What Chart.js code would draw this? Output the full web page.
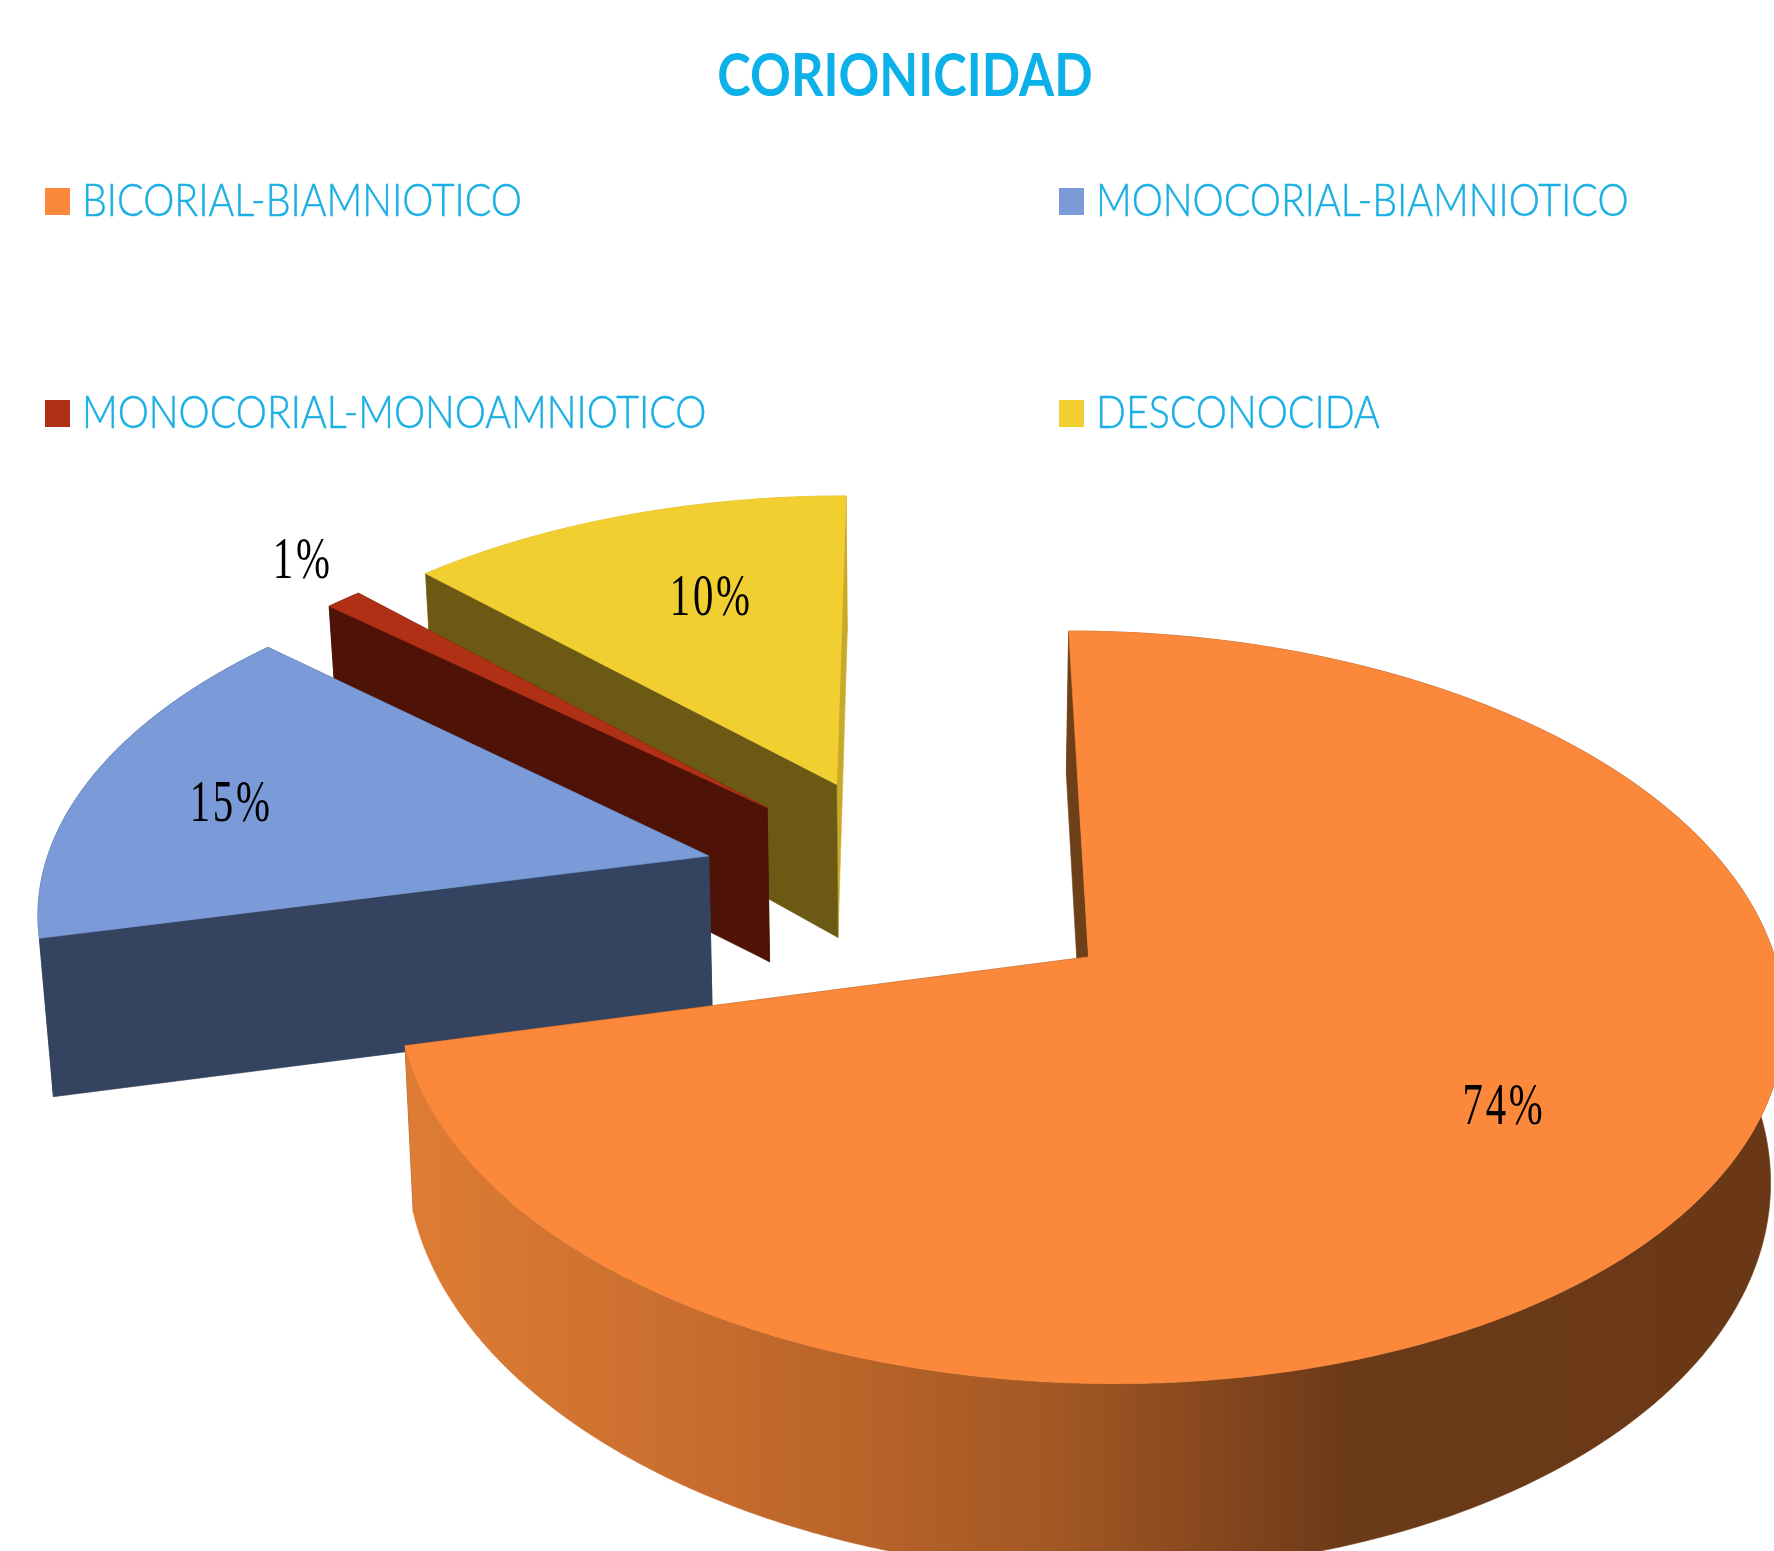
<!DOCTYPE html>
<html>
<head>
<meta charset="utf-8">
<style>html,body{margin:0;padding:0;background:#fff;overflow:hidden}#box{position:relative;width:1774px;height:1551px}</style>
<script src="https://cdn.jsdelivr.net/npm/chart.js@4"></script>
</head>
<body>
<div id="box"><canvas id="c"></canvas></div>
<script>
const chartTitle = 'CORIONICIDAD';
const categories = ['BICORIAL-BIAMNIOTICO','MONOCORIAL-BIAMNIOTICO','MONOCORIAL-MONOAMNIOTICO','DESCONOCIDA'];
const values = [74,15,1,10];
const topColors = ['#FC883B','#7A9AD8','#B03016','#F2CF30'];
const startWallColors = ['#6E4018','#334360','#4E1206','#6B5914'];
const endWallColors = ['#6E4018','#334360','#4E1206','#C9A92A'];
const explode = [212,230,230,229];
const explodeTilt = [0,2.0,1.5,-0.9];
const labelRadii = [0.68,0.76,1.16,0.66];
const labelTilt = [-4,-2,2.2,3];
const rimStops = [[400,'#DE7D34'],[650,'#CC7030'],[850,'#B96429'],[1050,'#A35824'],[1180,'#8C4A1F'],[1350,'#6B3A18'],[1774,'#6A3817']];
// Excel-style 3D view: angle distortion (deg in, deg shift) and camera
const angleKnots = [[0,0],[270,-10],[325,-9],[360,0]];
const view = {k:0.134, v0:-0.189, xc:922, vx:921, vy:-1800, y0:956, depth:163.7, lean:0.016, edgeThin:0.00003};
const radiusPx = 686;
const legendSlots = [[45,188],[1059,188],[45,400],[1059,400]];

function warp(deg){
  for(let i=1;i<angleKnots.length;i++){
    const a=angleKnots[i-1], b=angleKnots[i];
    if(deg<=b[0]) return deg + a[1] + (b[1]-a[1])*(deg-a[0])/(b[0]-a[0]);
  }
  return deg;
}
function project(px,py,z,R){
  const v=view.v0+py/R, s=1/(1-view.k*v);
  let X=view.vx+(view.xc+px-view.vx)*s, Y=view.vy+(view.y0-view.vy)*s;
  if(z){
    const d=X-view.vx;
    Y+=view.depth*s*z*(1-view.edgeThin*Math.abs(d));
    X-=view.lean*d*z;
  }
  return [X,Y];
}
function sliceGeom(arc,i){
  const toDeg=r=>(r+Math.PI/2)*180/Math.PI;
  const a=warp(toDeg(arc.startAngle)), b=warp(toDeg(arc.endAngle)), m=(a+b)/2;
  const R=arc.outerRadius, off=arc.options.offset, rad=(m+explodeTilt[i])*Math.PI/180;
  const ax=Math.sin(rad)*off, ay=-Math.cos(rad)*off;
  const pt=(deg,r,z)=>{const t=deg*Math.PI/180;return project(ax+Math.sin(t)*r,ay-Math.cos(t)*r,z,R);};
  return {a,b,m,R,pt};
}
function poly(ctx,pts,fill){
  ctx.beginPath();
  pts.forEach((p,i)=>i?ctx.lineTo(p[0],p[1]):ctx.moveTo(p[0],p[1]));
  ctx.closePath();
  ctx.fillStyle=fill; ctx.strokeStyle=fill; ctx.lineWidth=0.6;
  ctx.fill(); ctx.stroke();
}
function text(ctx,str,x,y,font,color,sx,align,spacing,stroke){
  ctx.save();
  ctx.font=font; ctx.fillStyle=color; ctx.textBaseline='middle'; ctx.textAlign=align;
  if(spacing) ctx.letterSpacing=spacing;
  ctx.translate(x,y); ctx.scale(sx,1); ctx.fillText(str,0,0);
  if(stroke){ctx.strokeStyle=color;ctx.lineWidth=stroke;ctx.strokeText(str,0,0);}
  ctx.restore();
}
const pie3d={
  id:'pie3d',
  beforeDatasetDraw(chart){
    const ctx=chart.ctx, arcs=chart.getDatasetMeta(0).data;
    const grad=ctx.createLinearGradient(400,0,1774,0);
    rimStops.forEach(s=>grad.addColorStop((s[0]-400)/1374,s[1]));
    [3,2,1,0].forEach(i=>{
      const g=sliceGeom(arcs[i],i), rim=[], rimLow=[];
      const n=Math.ceil((g.b-g.a)*2);
      for(let j=0;j<=n;j++){const d=g.a+(g.b-g.a)*j/n; rim.push(g.pt(d,g.R,0)); rimLow.push(g.pt(d,g.R,1));}
      const apex=g.pt(0,0,0), apexLow=g.pt(0,0,1);
      poly(ctx,[apex,rim[n],rimLow[n],apexLow],endWallColors[i]);
      poly(ctx,rim.concat(rimLow.slice().reverse()),i===0?grad:endWallColors[i]);
      poly(ctx,[apex,rim[0],rimLow[0],apexLow],startWallColors[i]);
      poly(ctx,[apex].concat(rim),topColors[i]);
    });
    return false;
  },
  afterDraw(chart){
    const ctx=chart.ctx, arcs=chart.getDatasetMeta(0).data;
    text(ctx,chartTitle,905,77,'bold 60px Lato','#0DB1E9',0.843,'center');
    categories.forEach((c,i)=>{
      const s=legendSlots[i];
      ctx.fillStyle=topColors[i]; ctx.fillRect(s[0],s[1],25,27);
      text(ctx,c,s[0]+37,s[1]+13,'300 46px Lato','#1AAFE4',0.855,'left',null,0.5);
    });
    values.forEach((v,i)=>{
      const g=sliceGeom(arcs[i],i), p=g.pt(g.m+labelTilt[i],g.R*labelRadii[i],0);
      text(ctx,v+'%',p[0],p[1]+2,'60px "Liberation Serif"','#000',0.68,'center','4px');
    });
  }
};
new Chart(document.getElementById('c'),{
  type:'pie',
  data:{labels:categories,datasets:[{data:values,backgroundColor:topColors,offset:explode,borderWidth:0}]},
  options:{responsive:true,maintainAspectRatio:false,animation:false,events:[],radius:radiusPx,
    plugins:{legend:{display:false},title:{display:false},tooltip:{enabled:false}}},
  plugins:[pie3d]
});
</script>
</body>
</html>
